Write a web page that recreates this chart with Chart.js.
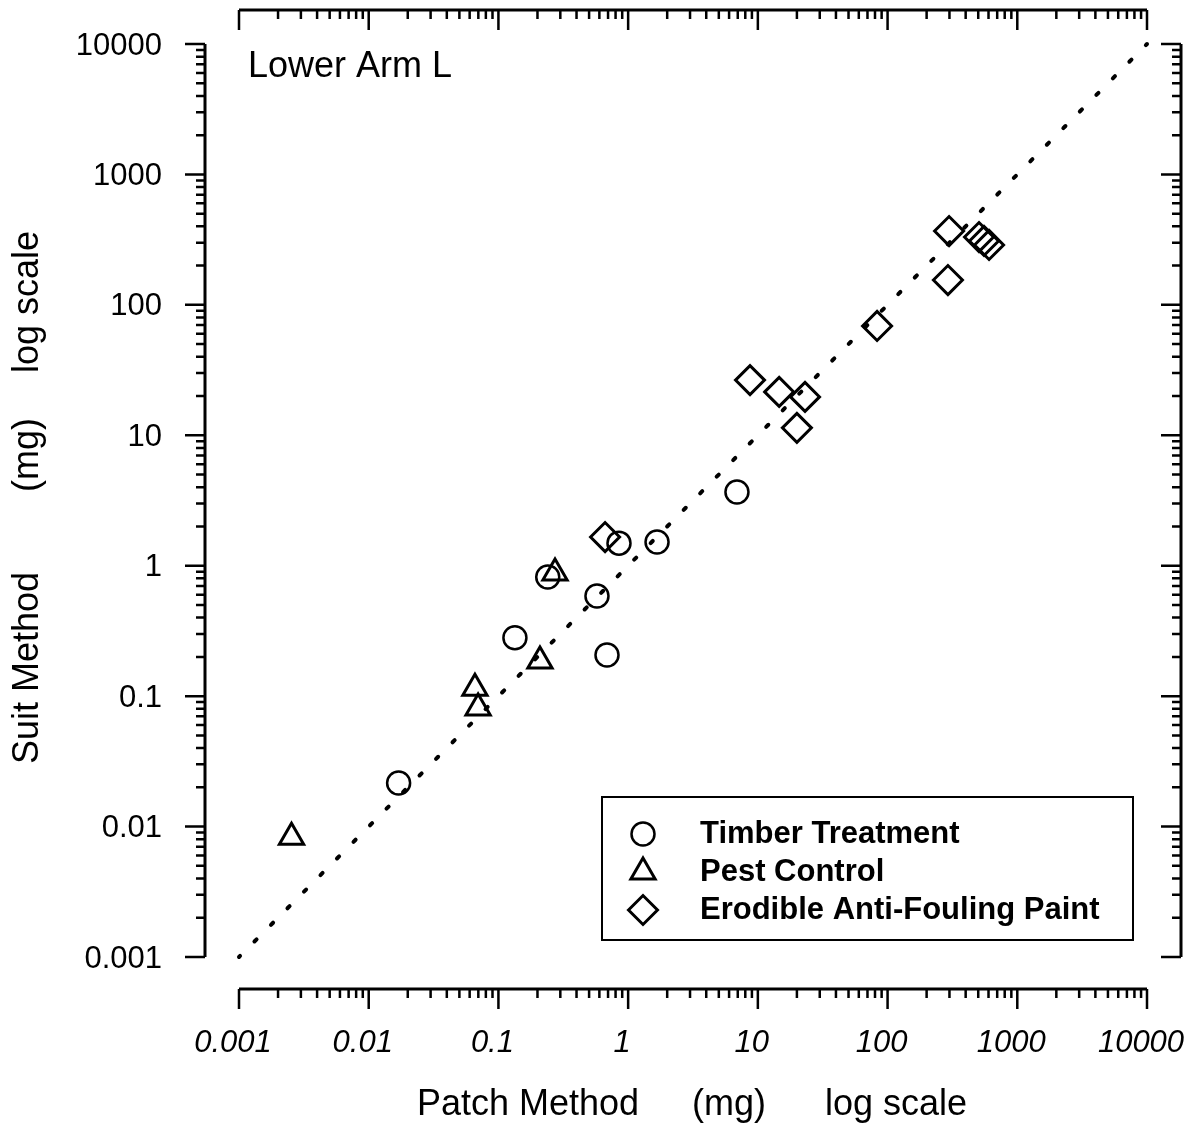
<!DOCTYPE html>
<html>
<head>
<meta charset="utf-8">
<title>Lower Arm L</title>
<script src="https://cdn.jsdelivr.net/npm/chart.js@4.4.1/dist/chart.umd.min.js"></script>
<style>
  html, body { margin: 0; padding: 0; background: #fff; }
  #wrap { width: 1196px; height: 1131px; position: relative; }
</style>
</head>
<body>
<div id="wrap"><canvas id="chart"></canvas></div>
<script>
// values (mg, both axes log)
const seriesNames = ["Timber Treatment", "Pest Control", "Erodible Anti-Fouling Paint"];

const timberX = [0.017, 0.134, 0.24, 0.575, 0.687, 0.85, 1.67, 6.9];
const timberY = [0.0216, 0.28, 0.82, 0.586, 0.207, 1.49, 1.52, 3.67];

const pestX = [0.00254, 0.0659, 0.0697, 0.209, 0.273];
const pestY = [0.0083, 0.115, 0.081, 0.186, 0.88];

const paintX = [0.664, 8.7, 14.6, 23.1, 20.0, 83, 292, 298, 507, 554, 606];
const paintY = [1.66, 26.5, 21.5, 19.7, 11.4, 68.9, 155, 368, 331, 309, 288];

// 1:1 line
const lineX = [0.001, 10000];
const lineY = [0.001, 10000];

const majorTicks = [0.001, 0.01, 0.1, 1, 10, 100, 1000, 10000];
const tickLabels = ["0.001", "0.01", "0.1", "1", "10", "100", "1000", "10000"];
const minorSteps = [2, 3, 4, 5, 6, 7, 8, 9];

const toPoints = (xs, ys) => xs.map((x, i) => ({ x: x, y: ys[i] }));

const FONT = "'Liberation Sans', Arial, Helvetica, sans-serif";

const markerStyle = {
  backgroundColor: "rgba(0,0,0,0)",
  borderColor: "#000",
  pointBorderColor: "#000",
  pointBackgroundColor: "rgba(0,0,0,0)",
  showLine: false
};

const datasets = [
  Object.assign({ label: seriesNames[0], data: toPoints(timberX, timberY),
    pointStyle: "circle", pointRadius: 11.5, pointBorderWidth: 2.5 }, markerStyle),
  Object.assign({ label: seriesNames[1], data: toPoints(pestX, pestY),
    pointStyle: "triangle", pointRadius: 14, pointBorderWidth: 3 }, markerStyle),
  Object.assign({ label: seriesNames[2], data: toPoints(paintX, paintY),
    pointStyle: "rectRot", pointRadius: 14.5, pointBorderWidth: 3 }, markerStyle),
  {
    label: "1:1",
    type: "line",
    data: toPoints(lineX, lineY),
    borderColor: "#000",
    borderWidth: 4,
    // 55 gaps along the diagonal so a dot sits on each end
    borderDash: [3, 20.41],
    borderDashOffset: 1.5,
    borderCapStyle: "round",
    pointRadius: 0,
    clip: false
  }
];

// axes, ticks, titles and legend drawn around the plot area
const framePlugin = {
  id: "frame",
  afterDraw(chart) {
    const ctx = chart.ctx;
    const xs = chart.scales.x;
    const ys = chart.scales.y;
    const x0 = xs.getPixelForValue(majorTicks[0]);
    const x1 = xs.getPixelForValue(majorTicks[majorTicks.length - 1]);
    const yb = ys.getPixelForValue(majorTicks[0]);
    const yt = ys.getPixelForValue(majorTicks[majorTicks.length - 1]);

    const leftAx = 205, rightAx = 1181, bottomAx = 989, topAx = 10;
    const majLen = 20, minLen = 9;

    ctx.save();
    ctx.strokeStyle = "#000";
    ctx.fillStyle = "#000";
    ctx.lineCap = "butt";

    // axis lines
    ctx.lineWidth = 3;
    ctx.beginPath();
    ctx.moveTo(x0, bottomAx); ctx.lineTo(x1, bottomAx);
    ctx.moveTo(x0, topAx); ctx.lineTo(x1, topAx);
    ctx.moveTo(leftAx, yt); ctx.lineTo(leftAx, yb);
    ctx.moveTo(rightAx, yt); ctx.lineTo(rightAx, yb);
    ctx.stroke();

    // ticks
    ctx.lineWidth = 2.5;
    ctx.beginPath();
    majorTicks.forEach((v, i) => {
      const px = xs.getPixelForValue(v);
      const py = ys.getPixelForValue(v);
      ctx.moveTo(px, bottomAx); ctx.lineTo(px, bottomAx + majLen);
      ctx.moveTo(px, topAx); ctx.lineTo(px, topAx + majLen);
      ctx.moveTo(leftAx, py); ctx.lineTo(leftAx - majLen, py);
      ctx.moveTo(rightAx, py); ctx.lineTo(rightAx - majLen, py);
      if (i === majorTicks.length - 1) return;
      minorSteps.forEach((m) => {
        const mx = xs.getPixelForValue(v * m);
        const my = ys.getPixelForValue(v * m);
        ctx.moveTo(mx, bottomAx); ctx.lineTo(mx, bottomAx + minLen);
        ctx.moveTo(mx, topAx); ctx.lineTo(mx, topAx + minLen);
        ctx.moveTo(leftAx, my); ctx.lineTo(leftAx - minLen, my);
        ctx.moveTo(rightAx, my); ctx.lineTo(rightAx - minLen, my);
      });
    });
    ctx.stroke();

    // tick labels
    ctx.textBaseline = "middle";
    ctx.font = "italic 31px " + FONT;
    ctx.textAlign = "center";
    majorTicks.forEach((v, i) => {
      ctx.fillText(tickLabels[i], xs.getPixelForValue(v) - 6, 1043);
    });
    ctx.font = "31px " + FONT;
    ctx.textAlign = "right";
    majorTicks.forEach((v, i) => {
      ctx.fillText(tickLabels[i], 162, ys.getPixelForValue(v) + 2);
    });

    // axis titles
    ctx.font = "36px " + FONT;
    ctx.textAlign = "center";
    ctx.fillText("Patch Method", 528, 1105);
    ctx.fillText("(mg)", 729, 1105);
    ctx.fillText("log scale", 896, 1105);

    ctx.save();
    ctx.translate(28, 0);
    ctx.rotate(-Math.PI / 2);
    ctx.fillText("Suit Method", -668, 0);
    ctx.fillText("(mg)", -455, 0);
    ctx.fillText("log scale", -302, 0);
    ctx.restore();

    // panel label
    ctx.textAlign = "left";
    ctx.textBaseline = "alphabetic";
    ctx.fillText("Lower Arm L", 248, 77);

    // legend
    ctx.lineWidth = 2;
    ctx.strokeRect(602, 797, 531, 143);
    const rowY = [834, 872, 910];
    ctx.font = "bold 31px " + FONT;
    ctx.textBaseline = "middle";
    for (let i = 0; i < 3; i++) {
      const ds = chart.data.datasets[i];
      ctx.save();
      ctx.fillStyle = "rgba(0,0,0,0)";
      ctx.lineWidth = ds.pointBorderWidth;
      Chart.helpers.drawPoint(ctx, {
        pointStyle: ds.pointStyle,
        radius: ds.pointRadius,
        rotation: 0,
        borderWidth: ds.pointBorderWidth
      }, 643, rowY[i]);
      ctx.restore();
      ctx.fillText(ds.label, 700, rowY[i]);
    }
    ctx.restore();
  }
};

new Chart(document.getElementById("chart"), {
  type: "scatter",
  data: { datasets: datasets },
  options: {
    responsive: true,
    maintainAspectRatio: false,
    animation: false,
    layout: { padding: { left: 239, top: 44, right: 49, bottom: 174 } },
    scales: {
      x: { type: "logarithmic", min: 0.001, max: 10000, display: false },
      y: { type: "logarithmic", min: 0.001, max: 10000, display: false }
    },
    plugins: {
      legend: { display: false },
      tooltip: { enabled: false }
    }
  },
  plugins: [framePlugin]
});
</script>
</body>
</html>
